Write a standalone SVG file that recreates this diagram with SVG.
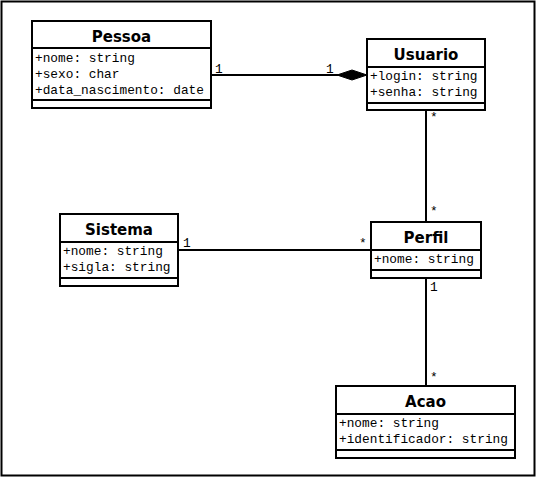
<svg xmlns="http://www.w3.org/2000/svg" width="538" height="479" viewBox="0 0 538 479">
<style>
.box{fill:#fff;stroke:#000;stroke-width:2}
.sep{stroke:#000;stroke-width:2}
.t{font-family:"DejaVu Sans",sans-serif;font-weight:bold;font-size:15px;text-anchor:middle}
.a{font-family:"Liberation Mono","DejaVu Sans Mono",monospace;font-size:12.8px}
.c{stroke:#000;stroke-width:2;fill:none}
.m{font-family:"Liberation Mono","DejaVu Sans Mono",monospace;font-size:12.8px}
</style>
<rect x="1.5" y="1.5" width="533" height="474" fill="#fff" stroke="#000" stroke-width="2"/>
<g id="connectors">
<line class="c" x1="211" y1="75" x2="340" y2="75"/>
<polygon points="337,75 352,70 367,75 352,80" fill="#000" stroke="#000" stroke-width="1"/>
<line class="c" x1="426" y1="110" x2="426" y2="222"/>
<line class="c" x1="178" y1="250" x2="371" y2="250"/>
<line class="c" x1="426" y1="278" x2="426" y2="386"/>
<text class="m" x="215" y="73">1</text>
<text class="m" x="326" y="73">1</text>
<text class="m" x="430" y="121">*</text>
<text class="m" x="430" y="215">*</text>
<text class="m" x="183" y="247">1</text>
<text class="m" x="359" y="247">*</text>
<text class="m" x="430" y="291">1</text>
<text class="m" x="430" y="381">*</text>
</g>
<g id="Pessoa">
<rect class="box" x="32" y="21" width="179" height="87"/>
<line class="sep" x1="32" y1="48" x2="211" y2="48"/>
<line class="sep" x1="32" y1="100" x2="211" y2="100"/>
<text class="t" x="121.5" y="42">Pessoa</text>
<text class="a" x="35" y="62">+nome: string</text>
<text class="a" x="35" y="78">+sexo: char</text>
<text class="a" x="35" y="94">+data_nascimento: date</text>
</g>
<g id="Usuario">
<rect class="box" x="367" y="39" width="118" height="71"/>
<line class="sep" x1="367" y1="67" x2="485" y2="67"/>
<line class="sep" x1="367" y1="103" x2="485" y2="103"/>
<text class="t" x="426" y="60">Usuario</text>
<text class="a" x="370" y="80">+login: string</text>
<text class="a" x="370" y="96">+senha: string</text>
</g>
<g id="Sistema">
<rect class="box" x="60" y="214" width="118" height="72"/>
<line class="sep" x1="60" y1="242" x2="178" y2="242"/>
<line class="sep" x1="60" y1="278" x2="178" y2="278"/>
<text class="t" x="119" y="235">Sistema</text>
<text class="a" x="63" y="255">+nome: string</text>
<text class="a" x="63" y="271">+sigla: string</text>
</g>
<g id="Perfil">
<rect class="box" x="371" y="222" width="110" height="56"/>
<line class="sep" x1="371" y1="250" x2="481" y2="250"/>
<line class="sep" x1="371" y1="270" x2="481" y2="270"/>
<text class="t" x="426" y="243">Perfil</text>
<text class="a" x="374" y="263">+nome: string</text>
</g>
<g id="Acao">
<rect class="box" x="336" y="386" width="179" height="72"/>
<line class="sep" x1="336" y1="414" x2="515" y2="414"/>
<line class="sep" x1="336" y1="450" x2="515" y2="450"/>
<text class="t" x="425.5" y="407">Acao</text>
<text class="a" x="339" y="427">+nome: string</text>
<text class="a" x="339" y="443">+identificador: string</text>
</g>
</svg>
